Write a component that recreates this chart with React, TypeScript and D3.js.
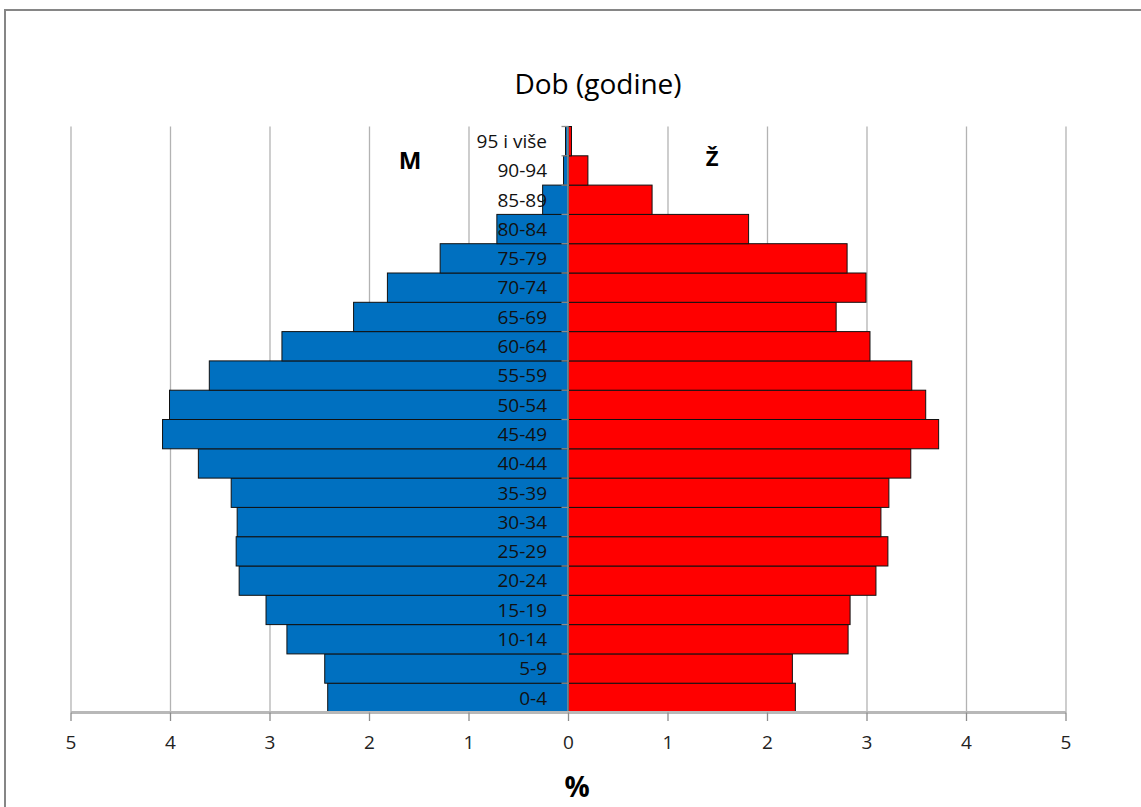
import React from "react";
import * as d3 from "d3";

const categories = ["0-4", "5-9", "10-14", "15-19", "20-24", "25-29", "30-34", "35-39", "40-44", "45-49", "50-54", "55-59", "60-64", "65-69", "70-74", "75-79", "80-84", "85-89", "90-94", "95 i više"];
const male = [2.42, 2.45, 2.83, 3.04, 3.31, 3.34, 3.33, 3.39, 3.72, 4.08, 4.01, 3.61, 2.88, 2.16, 1.82, 1.29, 0.72, 0.26, 0.05, 0.03];
const female = [2.28, 2.25, 2.81, 2.83, 3.09, 3.21, 3.14, 3.22, 3.44, 3.72, 3.59, 3.45, 3.03, 2.69, 2.99, 2.80, 1.81, 0.84, 0.195, 0.03];
const xTicks = [-5, -4, -3, -2, -1, 0, 1, 2, 3, 4, 5];

const W = 1141;
const H = 807;
const FONT = "'Open Sans', 'DejaVu Sans', sans-serif";

export default function App() {
  const x = d3.scaleLinear().domain([-5, 5]).range([71, 1066]);
  const order = [...categories].reverse();
  const y = d3.scaleBand<string>().domain(order).range([126.5, 712.5]).padding(0);
  const x0 = x(0);

  return (
    <svg width={W} height={H} style={{ position: "absolute", left: 0, top: 0, background: "#fff" }}>
      <rect x={0} y={0} width={W} height={H} fill="#fff" />
      {/* outer frame */}
      <rect x={5} y={10} width={W + 20} height={H + 20} fill="none" stroke="#868686" strokeWidth={2} />
      {/* title */}
      <text x={598} y={94} textAnchor="middle" fontFamily={FONT} fontSize={28} fill="#000">Dob (godine)</text>
      {/* gridlines */}
      {xTicks.filter((t) => t !== 0).map((t) => (
        <line key={"g" + t} x1={x(t)} x2={x(t)} y1={126.5} y2={712.5} stroke="#b3b3b3" strokeWidth={1.3} />
      ))}
      {/* bars */}
      {categories.map((c, i) => (
        <g key={c}>
          <rect x={x(-male[i])} y={y(c)!} width={x0 - x(-male[i])} height={y.bandwidth()} fill="#0070C0" stroke="#111" strokeWidth={1} />
          <rect x={x0} y={y(c)!} width={x(female[i]) - x0} height={y.bandwidth()} fill="#FF0000" stroke="#111" strokeWidth={1} />
        </g>
      ))}
      {/* center axis with ticks */}
      <line x1={x0 - 0.5} x2={x0 - 0.5} y1={126.5} y2={712.5} stroke="#8c8c8c" strokeWidth={1.5} />
      {order.map((c) => (
        <line key={"ct" + c} x1={x0 - 7} x2={x0} y1={y(c)!} y2={y(c)!} stroke="#8c8c8c" strokeWidth={1.3} />
      ))}
      {/* category labels */}
      {categories.map((c) => (
        <text key={"l" + c} x={547} y={y(c)! + y.bandwidth() / 2} dy="0.36em" textAnchor="end" fontFamily={FONT} fontSize={19} fill="#111">{c}</text>
      ))}
      {/* bottom axis */}
      <line x1={71} x2={1066} y1={712.5} y2={712.5} stroke="#b8b8b8" strokeWidth={3} />
      {xTicks.map((t) => (
        <g key={"t" + t}>
          <line x1={x(t)} x2={x(t)} y1={712.5} y2={721} stroke="#8c8c8c" strokeWidth={1.3} />
          <text x={x(t)} y={749} textAnchor="middle" fontFamily={FONT} fontSize={19} fill="#222">{Math.abs(t)}</text>
        </g>
      ))}
      {/* axis title */}
      <text x={577} y={797} textAnchor="middle" fontFamily={FONT} fontSize={28} fontWeight="bold" fill="#000">%</text>
      {/* series labels */}
      <text x={410} y={169} textAnchor="middle" fontFamily={FONT} fontSize={24} fontWeight="bold" fill="#000">M</text>
      <text x={712} y={166} textAnchor="middle" fontFamily={FONT} fontSize={22} fontWeight="bold" fill="#000">Ž</text>
    </svg>
  );
}
